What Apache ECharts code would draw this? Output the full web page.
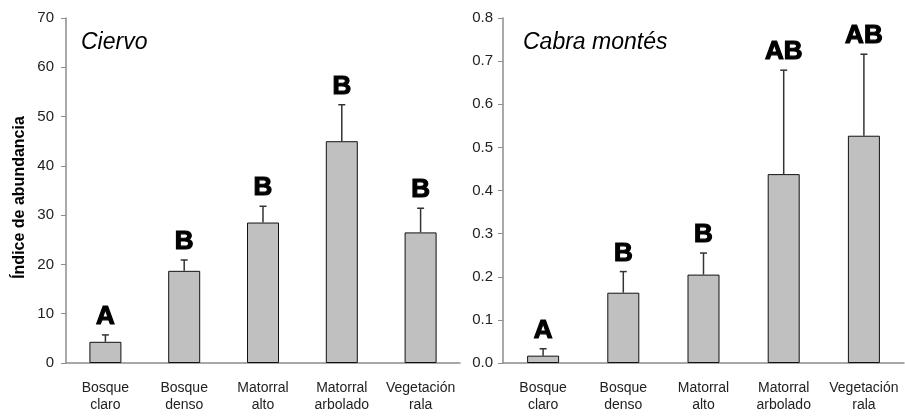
<!DOCTYPE html>
<html>
<head>
<meta charset="utf-8">
<script src="https://cdn.jsdelivr.net/npm/echarts@6/dist/echarts.min.js"></script>
<style>
  html, body { margin: 0; padding: 0; background: #fff; }
  #chart { width: 905px; height: 416px; }
</style>
</head>
<body>
<div id="chart"></div>
<script>
const categories = [
  "Bosque\nclaro",
  "Bosque\ndenso",
  "Matorral\nalto",
  "Matorral\narbolado",
  "Vegetación\nrala",
];

// Ciervo
const ciervoMean = [4.3, 18.7, 28.5, 45.0, 26.5];
const ciervoUpper = [5.7, 20.9, 31.8, 52.4, 31.4];
const ciervoLetters = ["A", "B", "B", "B", "B"];

// Cabra montés
const cabraMean = [0.017, 0.163, 0.205, 0.438, 0.527];
const cabraUpper = [0.033, 0.212, 0.255, 0.679, 0.716];
const cabraLetters = ["A", "B", "B", "AB", "AB"];

const ciervoTicks = [0, 10, 20, 30, 40, 50, 60, 70];
const cabraTicks = [0, 0.1, 0.2, 0.3, 0.4, 0.5, 0.6, 0.7, 0.8];

const font = "Liberation Sans, Arial, sans-serif";
const axisGray = "#8c8c8c";

const myChart = echarts.init(document.getElementById("chart"));

const errorSeries = (idx, mean, upper, letters) => ({
  type: "custom",
  xAxisIndex: idx,
  yAxisIndex: idx,
  data: mean.map((m, i) => [i, m, upper[i]]),
  z: 5,
  renderItem: function (params, api) {
    const base = api.coord([api.value(0), api.value(1)]);
    const top = api.coord([api.value(0), api.value(2)]);
    const cap = 3.5;
    return {
      type: "group",
      children: [
        {
          type: "line",
          shape: { x1: base[0], y1: base[1], x2: top[0], y2: top[1] },
          style: { stroke: "#333", lineWidth: 1.5 },
        },
        {
          type: "line",
          shape: { x1: top[0] - cap, y1: top[1], x2: top[0] + cap, y2: top[1] },
          style: { stroke: "#333", lineWidth: 1.5 },
        },
        {
          type: "text",
          x: top[0],
          y: top[1] - 5,
          style: {
            text: letters[params.dataIndex],
            font: "bold 26px " + font,
            fill: "#000",
            stroke: "#000",
            lineWidth: 1.2,
            align: "center",
            verticalAlign: "bottom",
          },
        },
      ],
    };
  },
});

const xAxisCommon = {
  type: "category",
  data: categories,
  axisLine: { lineStyle: { color: axisGray, width: 1.5 } },
  axisTick: { length: 4, lineStyle: { color: axisGray } },
  axisLabel: {
    color: "#222",
    fontFamily: font,
    fontSize: 14,
    lineHeight: 17,
    margin: 17,
    interval: 0,
  },
};

const yAxisCommon = {
  type: "value",
  min: 0,
  splitLine: { show: false },
  axisLine: { show: true, lineStyle: { color: axisGray, width: 1.5 } },
  axisTick: { show: true, length: 5, lineStyle: { color: axisGray } },
  axisLabel: { color: "#222", fontFamily: font, fontSize: 15, margin: 12 },
};

const titleStyle = { fontFamily: font, fontStyle: "italic", fontWeight: "normal", fontSize: 23, color: "#000" };

myChart.setOption({
  animation: false,
  backgroundColor: "#fff",
  title: [
    { text: "Ciervo", left: 76, top: 26, textStyle: titleStyle },
    { text: "Cabra montés", left: 518, top: 26, textStyle: titleStyle },
  ],
  grid: [
    { left: 66, width: 394, top: 18, bottom: 53 },
    { left: 503, right: 1, top: 18, bottom: 53 },
  ],
  xAxis: [
    Object.assign({ gridIndex: 0 }, xAxisCommon),
    Object.assign({ gridIndex: 1 }, xAxisCommon),
  ],
  yAxis: [
    Object.assign({}, yAxisCommon, {
      gridIndex: 0,
      max: ciervoTicks[ciervoTicks.length - 1],
      interval: 10,
      name: "Índice de abundancia",
      nameLocation: "middle",
      nameGap: 38,
      nameTextStyle: {
        fontFamily: font,
        fontWeight: "bold",
        fontSize: 16,
        color: "#000",
        padding: [0, 14, 0, 0],
      },
    }),
    Object.assign({}, yAxisCommon, {
      gridIndex: 1,
      max: cabraTicks[cabraTicks.length - 1],
      interval: 0.1,
      axisLabel: Object.assign({}, yAxisCommon.axisLabel, {
        margin: 10,
        formatter: (v) => v.toFixed(1),
      }),
    }),
  ],
  series: [
    {
      type: "bar",
      xAxisIndex: 0,
      yAxisIndex: 0,
      data: ciervoMean,
      barWidth: 32,
      itemStyle: { color: "#c0c0c0", borderColor: "#111", borderWidth: 1 },
    },
    {
      type: "bar",
      xAxisIndex: 1,
      yAxisIndex: 1,
      data: cabraMean,
      barWidth: 32,
      itemStyle: { color: "#c0c0c0", borderColor: "#111", borderWidth: 1 },
    },
    errorSeries(0, ciervoMean, ciervoUpper, ciervoLetters),
    errorSeries(1, cabraMean, cabraUpper, cabraLetters),
  ],
});

window.addEventListener("resize", myChart.resize);
</script>
</body>
</html>
